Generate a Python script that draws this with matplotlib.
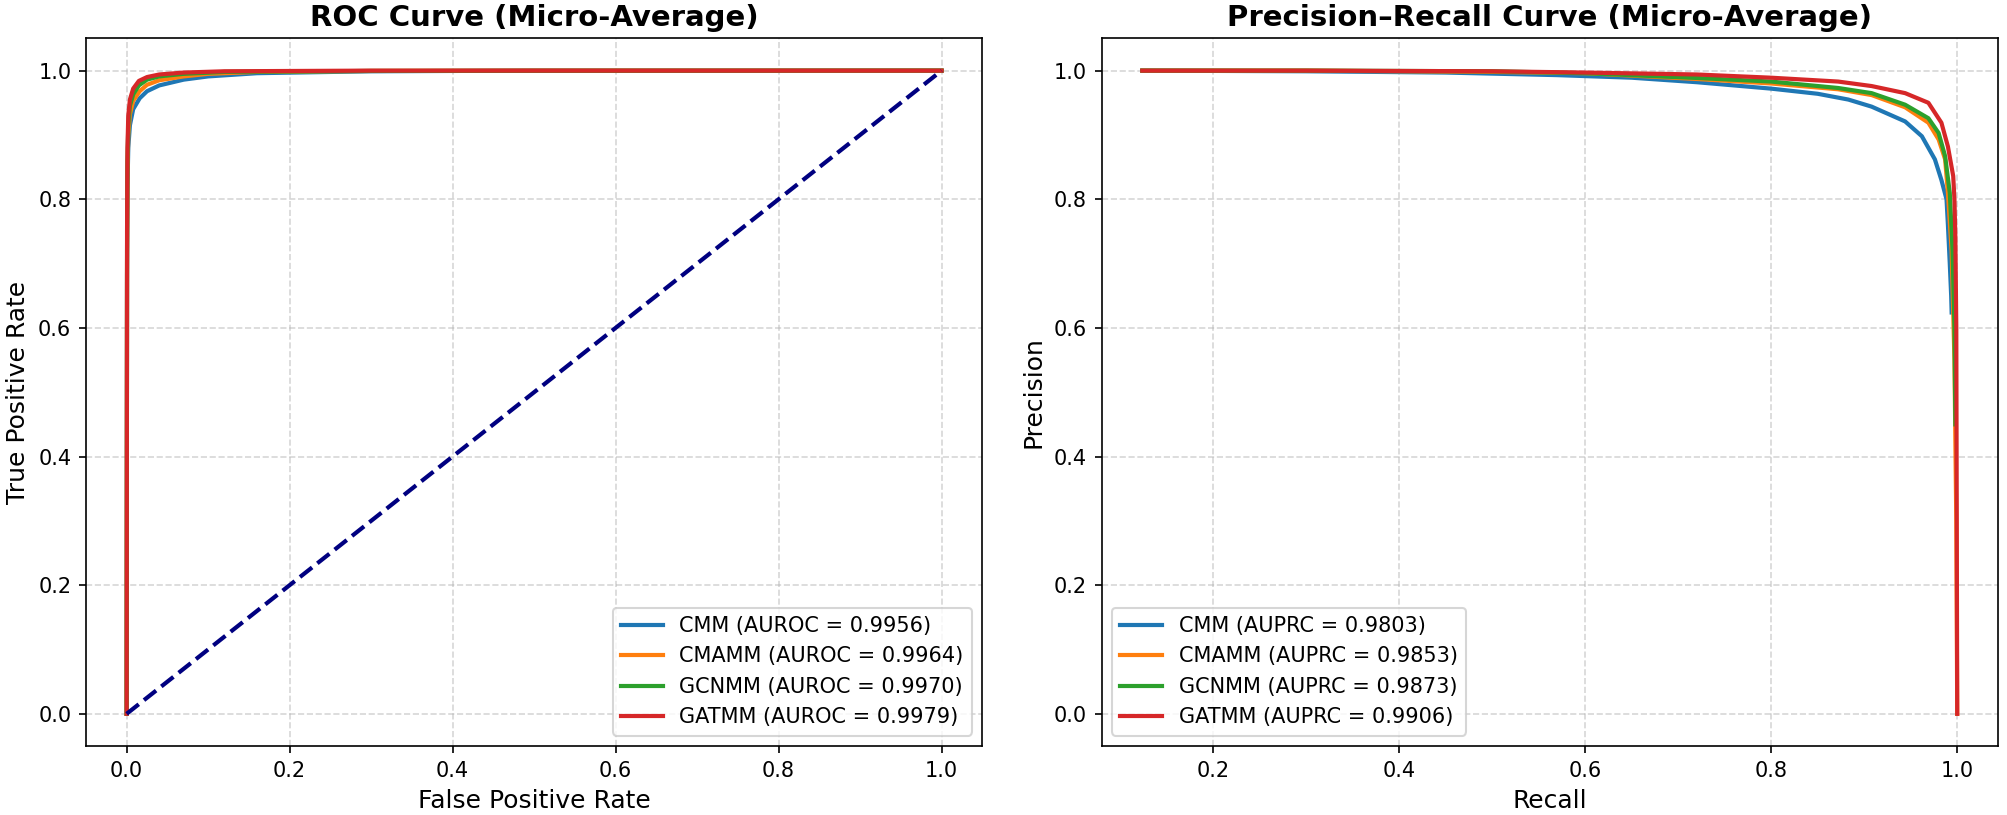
import matplotlib
matplotlib.use("Agg")
import matplotlib.pyplot as plt

# ── data ──────────────────────────────────────────────────────────────────────
models = ["CMM", "CMAMM", "GCNMM", "GATMM"]
auroc  = [0.9956, 0.9964, 0.9970, 0.9979]
auprc  = [0.9803, 0.9853, 0.9873, 0.9906]
colors = ["#1f77b4", "#ff7f0e", "#2ca02c", "#d62728"]

# ROC points (fpr, tpr)
fpr_cmm   = [0, 0.0005, 0.001, 0.002, 0.004, 0.008, 0.016, 0.025, 0.04, 0.07, 0.10, 0.16, 0.30, 0.5, 1.0]
tpr_cmm   = [0, 0.68, 0.82, 0.88, 0.915, 0.940, 0.957, 0.968, 0.977, 0.986, 0.991, 0.996, 0.999, 1.0, 1.0]
fpr_cmamm = [0, 0.0005, 0.001, 0.002, 0.004, 0.008, 0.016, 0.025, 0.04, 0.07, 0.10, 0.16, 0.30, 0.5, 1.0]
tpr_cmamm = [0, 0.70, 0.84, 0.90, 0.932, 0.953, 0.968, 0.978, 0.985, 0.991, 0.995, 0.998, 0.9995, 1.0, 1.0]
fpr_gcnmm = [0, 0.0005, 0.001, 0.002, 0.004, 0.008, 0.015, 0.025, 0.04, 0.07, 0.12, 0.30, 1.0]
tpr_gcnmm = [0, 0.72, 0.86, 0.915, 0.945, 0.963, 0.977, 0.986, 0.991, 0.995, 0.998, 0.9995, 1.0]
fpr_gatmm = [0, 0.0005, 0.001, 0.002, 0.004, 0.008, 0.015, 0.025, 0.04, 0.07, 0.12, 0.30, 1.0]
tpr_gatmm = [0, 0.75, 0.88, 0.93, 0.955, 0.972, 0.984, 0.990, 0.994, 0.997, 0.999, 1.0, 1.0]

# PR points (recall, precision)
rec_cmm    = [0.124, 0.30, 0.45, 0.57, 0.65, 0.72, 0.80, 0.85, 0.883, 0.908, 0.944, 0.962, 0.976, 0.983,
              0.9885, 0.990, 0.992, 0.9935, 0.994]
prec_cmm   = [1.0, 0.999, 0.997, 0.993, 0.989, 0.982, 0.972, 0.964, 0.955, 0.944, 0.921, 0.898, 0.862, 0.830,
              0.800, 0.760, 0.700, 0.650, 0.624]
rec_cmamm  = [0.124, 0.30, 0.50, 0.60, 0.72, 0.80, 0.872, 0.908, 0.944, 0.969, 0.980, 0.987,
              0.990, 0.994, 0.997, 0.999, 1.0]
prec_cmamm = [1.0, 1.0, 0.998, 0.996, 0.987, 0.980, 0.971, 0.962, 0.943, 0.919, 0.893, 0.862,
              0.810, 0.720, 0.550, 0.300, 0.0]
rec_gcnmm  = [0.124, 0.30, 0.50, 0.60, 0.72, 0.80, 0.872, 0.908, 0.944, 0.969, 0.980, 0.987,
              0.992, 0.995, 0.997, 0.998]
prec_gcnmm = [1.0, 1.0, 0.999, 0.996, 0.9886, 0.983, 0.973, 0.965, 0.947, 0.926, 0.903, 0.867,
              0.810, 0.720, 0.600, 0.450]
rec_gatmm  = [0.124, 0.30, 0.50, 0.60, 0.72, 0.80, 0.872, 0.908, 0.944, 0.969, 0.983, 0.990,
              0.9957, 0.997, 0.998, 0.999, 0.9995, 1.0]
prec_gatmm = [1.0, 1.0, 0.999, 0.997, 0.994, 0.989, 0.983, 0.976, 0.965, 0.950, 0.919, 0.882,
              0.836, 0.800, 0.740, 0.600, 0.300, 0.0]

roc_x = [fpr_cmm, fpr_cmamm, fpr_gcnmm, fpr_gatmm]
roc_y = [tpr_cmm, tpr_cmamm, tpr_gcnmm, tpr_gatmm]
pr_x  = [rec_cmm, rec_cmamm, rec_gcnmm, rec_gatmm]
pr_y  = [prec_cmm, prec_cmamm, prec_gcnmm, prec_gatmm]

# ── figure ────────────────────────────────────────────────────────────────────
fig, (ax1, ax2) = plt.subplots(1, 2, figsize=(2007 / 150, 815 / 150), dpi=150)
fig.subplots_adjust(left=0.0428, right=0.9955, bottom=0.0847, top=0.9528, wspace=0.133)

# left: ROC
for name, a, x, y, c in zip(models, auroc, roc_x, roc_y, colors):
    ax1.plot(x, y, color=c, lw=2, label=f"{name} (AUROC = {a:.4f})")
ax1.plot([0, 1], [0, 1], color="navy", lw=2, ls="--")
ax1.set_title("ROC Curve (Micro-Average)", fontsize=14, fontweight="bold")
ax1.set_xlabel("False Positive Rate", fontsize=12)
ax1.set_ylabel("True Positive Rate", fontsize=12)
ax1.legend(loc="lower right", fontsize=10)

# right: precision-recall
for name, a, x, y, c in zip(models, auprc, pr_x, pr_y, colors):
    ax2.plot(x, y, color=c, lw=2, label=f"{name} (AUPRC = {a:.4f})")
ax2.set_title("Precision\u2013Recall Curve (Micro-Average)", fontsize=14, fontweight="bold")
ax2.set_xlabel("Recall", fontsize=12)
ax2.set_ylabel("Precision", fontsize=12)
ax2.legend(loc="lower left", fontsize=10)

for ax in (ax1, ax2):
    ax.grid(True, ls="--", alpha=0.5)
    ax.tick_params(labelsize=10)

fig.savefig("out.png", dpi=150)
